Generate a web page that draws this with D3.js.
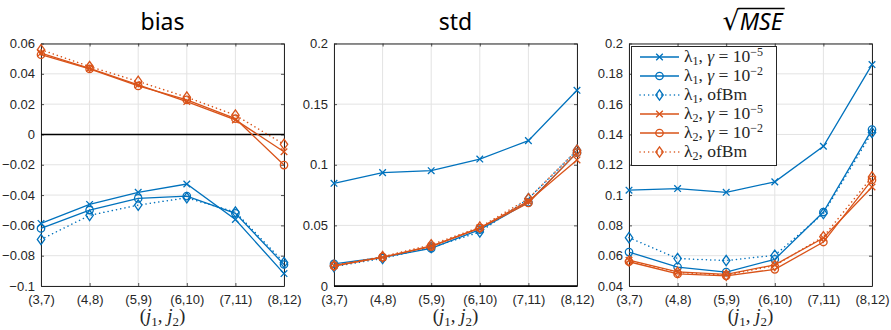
<!DOCTYPE html>
<html>
<head>
<meta charset="utf-8">
<script src="https://cdn.jsdelivr.net/npm/d3@7"></script>
<style>
  body { margin: 0; background: #fff; }
  svg { display: block; }
</style>
</head>
<body>
<script>
// x categories (j1, j2)
var pairs = ["(3,7)", "(4,8)", "(5,9)", "(6,10)", "(7,11)", "(8,12)"];

// bias
var biasL1G5 = [-0.0587, -0.0462, -0.0382, -0.0327, -0.0561, -0.0918];
var biasL1G2 = [-0.0620, -0.0499, -0.0422, -0.0407, -0.0521, -0.0858];
var biasL1Of = [-0.0693, -0.0534, -0.0466, -0.0418, -0.0512, -0.0845];
var biasL2G5 = [0.0537, 0.0436, 0.0327, 0.0217, 0.0096, -0.0114];
var biasL2G2 = [0.0526, 0.0432, 0.0320, 0.0228, 0.0104, -0.0202];
var biasL2Of = [0.0559, 0.0448, 0.0350, 0.0246, 0.0127, -0.0065];

// std
var stdL1G5 = [0.0847, 0.0935, 0.0951, 0.1047, 0.1199, 0.1614];
var stdL1G2 = [0.0182, 0.0236, 0.0310, 0.0465, 0.0690, 0.1100];
var stdL1Of = [0.0160, 0.0228, 0.0318, 0.0445, 0.0720, 0.1120];
var stdL2G5 = [0.0168, 0.0236, 0.0330, 0.0480, 0.0700, 0.1040];
var stdL2G2 = [0.0165, 0.0238, 0.0325, 0.0478, 0.0685, 0.1100];
var stdL2Of = [0.0170, 0.0242, 0.0340, 0.0485, 0.0720, 0.1120];

// sqrt(MSE)
var mseL1G5 = [0.1032, 0.1043, 0.1018, 0.1087, 0.1322, 0.1861];
var mseL1G2 = [0.0624, 0.0525, 0.0492, 0.0576, 0.0888, 0.1432];
var mseL1Of = [0.0719, 0.0581, 0.0568, 0.0603, 0.0878, 0.1413];
var mseL2G5 = [0.0570, 0.0493, 0.0477, 0.0540, 0.0717, 0.1053];
var mseL2G2 = [0.0560, 0.0480, 0.0467, 0.0510, 0.0690, 0.1100];
var mseL2Of = [0.0565, 0.0490, 0.0472, 0.0535, 0.0725, 0.1120];

// y ticks per panel
var biasTicks = [-0.1, -0.08, -0.06, -0.04, -0.02, 0, 0.02, 0.04, 0.06];
var stdTicks = [0, 0.05, 0.1, 0.15, 0.2];
var mseTicks = [0.04, 0.06, 0.08, 0.1, 0.12, 0.14, 0.16, 0.18, 0.2];

var blue = "#0072BD", orange = "#D95319";

// series styles, same order in every panel
var styles = [
  {color: blue,   marker: "x", dash: null},
  {color: blue,   marker: "o", dash: null},
  {color: blue,   marker: "d", dash: "0.1,4.2"},
  {color: orange, marker: "x", dash: null},
  {color: orange, marker: "o", dash: null},
  {color: orange, marker: "d", dash: "0.1,4.2"}
];

var panels = [
  {left: 41,  title: "bias", ticks: biasTicks, domain: [-0.1, 0.06], zero: true,
   series: [biasL1G5, biasL1G2, biasL1Of, biasL2G5, biasL2G2, biasL2Of]},
  {left: 334, title: "std", ticks: stdTicks, domain: [0, 0.2], zero: true,
   series: [stdL1G5, stdL1G2, stdL1Of, stdL2G5, stdL2G2, stdL2Of]},
  {left: 629, title: "mse", ticks: mseTicks, domain: [0.04, 0.2], zero: false,
   series: [mseL1G5, mseL1G2, mseL1Of, mseL2G5, mseL2G2, mseL2Of]}
];

var pw = 243, plotTop = 43.5, plotBottom = 286;
var axisColor = "#262626";

var svg = d3.select("body")
  .append("svg")
    .attr("width", 891)
    .attr("height", 330);

function drawMarker(g, type, x, y, color) {
  if (type == "o") {
    g.append("circle").attr("cx", x).attr("cy", y).attr("r", 3.7)
      .attr("fill", "none").attr("stroke", color).attr("stroke-width", 1.3);
  } else if (type == "x") {
    var s = 3.3;
    g.append("path")
      .attr("d", "M" + (x - s) + "," + (y - s) + "L" + (x + s) + "," + (y + s) +
                 "M" + (x - s) + "," + (y + s) + "L" + (x + s) + "," + (y - s))
      .attr("fill", "none").attr("stroke", color).attr("stroke-width", 1.3);
  } else {
    var w = 3.7, h = 5.2;
    g.append("path")
      .attr("d", "M" + x + "," + (y - h) + "L" + (x + w) + "," + y +
                 "L" + x + "," + (y + h) + "L" + (x - w) + "," + y + "Z")
      .attr("fill", "none").attr("stroke", color).attr("stroke-width", 1.3);
  }
}

function styleLine(sel, st) {
  sel.attr("stroke", st.color)
    .attr("stroke-width", st.dash ? 1.5 : 1.3)
    .attr("stroke-dasharray", st.dash)
    .attr("stroke-linecap", st.dash ? "round" : "butt");
}

panels.forEach(function(p) {
  var x = d3.scalePoint().domain(pairs).range([p.left, p.left + pw]);
  var y = d3.scaleLinear().domain(p.domain).range([plotBottom, plotTop]);
  var g = svg.append("g");

  // grid
  g.selectAll(".vg").data(pairs).enter().append("line")
    .attr("x1", function(d) { return x(d); }).attr("x2", function(d) { return x(d); })
    .attr("y1", plotTop).attr("y2", plotBottom)
    .attr("stroke", "#e3e3e3").attr("stroke-width", 1);
  g.selectAll(".hg").data(p.ticks).enter().append("line")
    .attr("x1", p.left).attr("x2", p.left + pw)
    .attr("y1", function(d) { return y(d); }).attr("y2", function(d) { return y(d); })
    .attr("stroke", "#e3e3e3").attr("stroke-width", 1);

  // axes with d3, ticks inward
  var ax = g.append("g").attr("transform", "translate(0," + plotBottom + ")")
    .call(d3.axisBottom(x).tickSizeInner(-3).tickSizeOuter(0).tickPadding(7));
  var ay = g.append("g").attr("transform", "translate(" + p.left + ",0)")
    .call(d3.axisLeft(y).tickValues(p.ticks).tickSizeInner(-3).tickSizeOuter(0).tickPadding(6)
      .tickFormat(function(d) { return d3.format("")(+d.toFixed(2)); }));
  var axt = g.append("g").attr("transform", "translate(0," + plotTop + ")")
    .call(d3.axisTop(x).tickSizeInner(-3).tickSizeOuter(0).tickFormat(""));
  var ayr = g.append("g").attr("transform", "translate(" + (p.left + pw) + ",0)")
    .call(d3.axisRight(y).tickValues(p.ticks).tickSizeInner(-3).tickSizeOuter(0).tickFormat(""));
  [ax, ay, axt, ayr].forEach(function(a) {
    a.attr("font-size", null).attr("font-family", null);
    a.selectAll(".domain").attr("stroke", axisColor).attr("stroke-width", 1);
    a.selectAll(".tick line").attr("stroke", axisColor).attr("stroke-width", 0.8);
    a.selectAll("text").attr("fill", axisColor)
      .style("font-family", "'Liberation Sans', Arial, sans-serif").style("font-size", "13px");
  });
  ax.selectAll("text").attr("dy", "0.85em");

  if (p.zero) {
    g.append("line").attr("x1", p.left).attr("x2", p.left + pw)
      .attr("y1", y(0)).attr("y2", y(0))
      .attr("stroke", "#000").attr("stroke-width", 1.6);
  }

  // series
  var line = d3.line()
    .x(function(d, i) { return x(pairs[i]); })
    .y(function(d) { return y(d); });
  p.series.forEach(function(vals, k) {
    var st = styles[k];
    var sg = g.append("g");
    sg.append("path").datum(vals)
      .attr("d", line)
      .attr("fill", "none")
      .call(styleLine, st);
    vals.forEach(function(v, i) { drawMarker(sg, st.marker, x(pairs[i]), y(v), st.color); });
  });

  // x label
  var lab = g.append("text")
    .attr("x", p.left + pw / 2).attr("y", 322)
    .attr("text-anchor", "middle")
    .style("font-family", "'Liberation Serif', 'DejaVu Serif', serif")
    .style("font-size", "19px").attr("fill", axisColor);
  lab.append("tspan").text("(");
  lab.append("tspan").style("font-style", "italic").text("j");
  lab.append("tspan").attr("dy", 4).style("font-size", "13px").text("1");
  lab.append("tspan").attr("dy", -4).text(", ");
  lab.append("tspan").style("font-style", "italic").text("j");
  lab.append("tspan").attr("dy", 4).style("font-size", "13px").text("2");
  lab.append("tspan").attr("dy", -4).text(")");

  // title
  if (p.title != "mse") {
    g.append("text")
      .attr("x", p.left + pw / 2).attr("y", 30)
      .attr("text-anchor", "middle")
      .style("font-family", "'Noto Sans', sans-serif").style("font-size", "23px")
      .attr("fill", "#000")
      .text(p.title);
  } else {
    var t = g.append("text")
      .attr("x", p.left + pw / 2 + 2).attr("y", 30)
      .attr("text-anchor", "middle")
      .style("font-family", "'Noto Sans', sans-serif").style("font-size", "23px")
      .attr("fill", "#000");
    t.append("tspan").style("font-family", "'DejaVu Sans', sans-serif").style("font-size", "27px").text("\u221A");
    t.append("tspan").style("font-style", "italic").text("MSE");
    var bb = t.node().getBBox();
    var rad = t.select("tspan").node().getComputedTextLength();
    g.append("line")
      .attr("x1", bb.x + rad - 1.5).attr("x2", bb.x + bb.width + 1)
      .attr("y1", 8.5).attr("y2", 8.5)
      .attr("stroke", "#000").attr("stroke-width", 1.4);
  }
});

// legend in the third panel
var legendLabels = [
  {lam: "1", tail: "g", exp: "\u22125"},
  {lam: "1", tail: "g", exp: "\u22122"},
  {lam: "1", tail: "ofBm"},
  {lam: "2", tail: "g", exp: "\u22125"},
  {lam: "2", tail: "g", exp: "\u22122"},
  {lam: "2", tail: "ofBm"}
];
var lg = svg.append("g");
lg.append("rect")
  .attr("x", 631.5).attr("y", 46.5).attr("width", 145).attr("height", 119)
  .attr("fill", "#fff").attr("stroke", axisColor).attr("stroke-width", 1);
legendLabels.forEach(function(l, k) {
  var st = styles[k];
  var yy = 57 + k * 19;
  lg.append("line").attr("x1", 640).attr("x2", 679).attr("y1", yy).attr("y2", yy)
    .call(styleLine, st);
  drawMarker(lg, st.marker, 659.5, yy, st.color);
  var tx = lg.append("text").attr("x", 684).attr("y", yy + 5)
    .style("font-family", "'Liberation Serif', 'DejaVu Serif', serif")
    .style("font-size", "17.5px").attr("fill", axisColor);
  tx.append("tspan").text("\u03BB");
  tx.append("tspan").attr("dy", 3).style("font-size", "12px").text(l.lam);
  if (l.tail == "g") {
    tx.append("tspan").attr("dy", -3).text(", ");
    tx.append("tspan").style("font-style", "italic").text("\u03B3");
    tx.append("tspan").text(" = 10");
    tx.append("tspan").attr("dy", -6).style("font-size", "12px").text(l.exp);
  } else {
    tx.append("tspan").attr("dy", -3).text(", ofBm");
  }
});
</script>
</body>
</html>
